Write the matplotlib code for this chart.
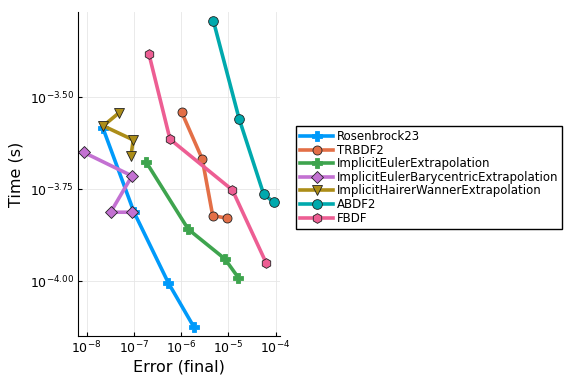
import numpy as np
import matplotlib.pyplot as plt
from matplotlib.ticker import FixedLocator, FixedFormatter, NullLocator

names = ["Rosenbrock23", "TRBDF2", "ImplicitEulerExtrapolation",
         "ImplicitEulerBarycentricExtrapolation", "ImplicitHairerWannerExtrapolation",
         "ABDF2", "FBDF"]

err_ros = [2.21e-8, 1.0e-7, 5.4e-7, 1.87e-6]
time_ros = [2.61e-4, 1.545e-4, 9.9e-5, 7.52e-5]
err_trbdf2 = [1.03e-6, 2.81e-6, 4.67e-6, 9.53e-6]
time_trbdf2 = [2.88e-4, 2.15e-4, 1.51e-4, 1.485e-4]
err_iee = [1.80e-7, 1.42e-6, 8.51e-6, 1.63e-5]
time_iee = [2.115e-4, 1.386e-4, 1.151e-4, 1.024e-4]
err_iebe = [8.77e-9, 9.12e-8, 3.22e-8, 9.25e-8]
time_iebe = [2.24e-4, 1.935e-4, 1.542e-4, 1.542e-4]
err_ihw = [4.91e-8, 2.25e-8, 9.7e-8, 8.69e-8]
time_ihw = [2.875e-4, 2.646e-4, 2.423e-4, 2.198e-4]
err_abdf2 = [4.81e-6, 1.69e-5, 5.62e-5, 9.29e-5]
time_abdf2 = [5.11e-4, 2.77e-4, 1.725e-4, 1.641e-4]
err_fbdf = [2.09e-7, 5.82e-7, 1.22e-5, 6.30e-5]
time_fbdf = [4.14e-4, 2.434e-4, 1.772e-4, 1.125e-4]

errs = [err_ros, err_trbdf2, err_iee, err_iebe, err_ihw, err_abdf2, err_fbdf]
times = [time_ros, time_trbdf2, time_iee, time_iebe, time_ihw, time_abdf2, time_fbdf]
colors = ["#009AFA", "#E36F47", "#3EA44E", "#C371D2", "#AC8D18", "#00A9AD", "#ED5E93"]
markers = ["P", "o", "P", "D", "v", "o", "h"]
msizes = [7, 6.5, 7, 6, 7, 7, 7]

xticks = [1e-8, 1e-7, 1e-6, 1e-5, 1e-4]
xlabels = [r"$10^{-8}$", r"$10^{-7}$", r"$10^{-6}$", r"$10^{-5}$", r"$10^{-4}$"]
yticks = [10**-4.0, 10**-3.75, 10**-3.5]
ylabels = [r"$10^{-4.00}$", r"$10^{-3.75}$", r"$10^{-3.50}$"]

fig = plt.figure(figsize=(5.76, 3.84), dpi=100)
ax = fig.add_axes([0.1354, 0.125, 0.3507, 0.844])

for i in range(len(names)):
    mec = colors[i] if markers[i] == "P" else "#222222"
    ax.plot(errs[i], times[i], color=colors[i], lw=2.6, marker=markers[i],
            ms=msizes[i], mec=mec, mew=0.6, label=names[i])

ax.set_xscale("log")
ax.set_yscale("log")
ax.set_xlim(10**-8.184, 10**-3.905)
ax.set_ylim(10**-4.148, 10**-3.268)

ax.xaxis.set_major_locator(FixedLocator(xticks))
ax.xaxis.set_major_formatter(FixedFormatter(xlabels))
ax.xaxis.set_minor_locator(NullLocator())
ax.yaxis.set_major_locator(FixedLocator(yticks))
ax.yaxis.set_major_formatter(FixedFormatter(ylabels))
ax.yaxis.set_minor_locator(NullLocator())
ax.tick_params(direction="in", length=3, labelsize=9, pad=3)

ax.grid(True, color="#e6e6e6", lw=0.6)
ax.spines["top"].set_visible(False)
ax.spines["right"].set_visible(False)
ax.set_xlabel("Error (final)", fontsize=11.5, labelpad=2)
ax.set_ylabel("Time (s)", fontsize=11.5, labelpad=4)

fig.legend(loc="upper left", bbox_to_anchor=(296/576, 1 - 126/384), fontsize=8.5,
           fancybox=False, edgecolor="black", framealpha=1, labelspacing=0.05,
           handlelength=2.8, borderpad=0.35, handletextpad=0.3, borderaxespad=0)

plt.savefig("out.png", dpi=100)
